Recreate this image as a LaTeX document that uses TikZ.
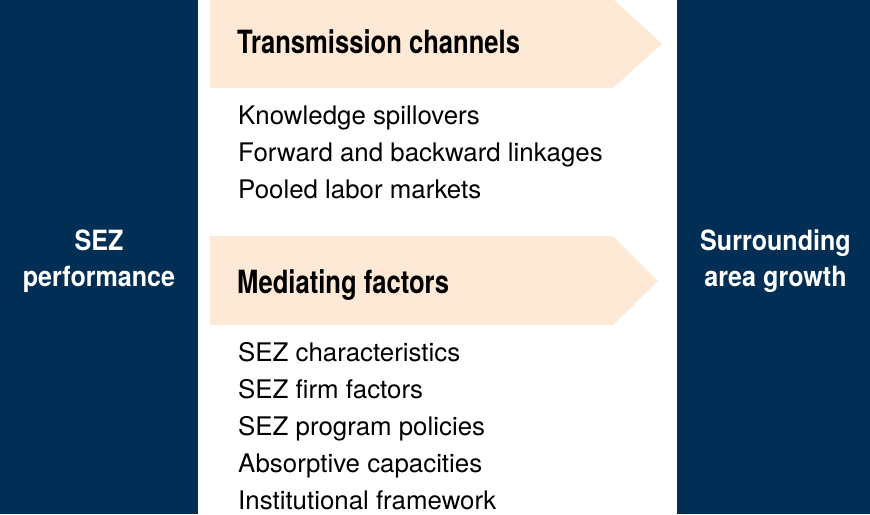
\documentclass[tikz,border=0pt]{standalone}
\usepackage{fontspec}
\setmainfont{TeX Gyre Heros}
\newfontfamily\headfont[FakeStretch=0.8]{TeX Gyre Heros}
\newfontfamily\sidefont[FakeStretch=0.9]{TeX Gyre Heros}
\newfontfamily\itemfont[FakeStretch=1.01]{TeX Gyre Heros}

\definecolor{navy}{RGB}{0,46,84}
\definecolor{peach}{RGB}{254,233,214}

\begin{document}
\begin{tikzpicture}[x=1pt,y=-1pt,
    side box/.style={fill=navy,minimum height=514pt,inner sep=0pt},
    side text/.style={text=white,inner sep=0pt,align=center,yshift=-4pt,
      font=\sidefont\bfseries\fontsize{27.9}{36}\selectfont},
    head/.style={anchor=base west,inner sep=0pt,font=\headfont\bfseries\fontsize{32}{36}\selectfont},
    item/.style={anchor=base west,inner sep=0pt,font=\itemfont\fontsize{25.6}{37}\selectfont}]
  \useasboundingbox (0,0) rectangle (870,514);

  % the two end boxes
  \node[side box, minimum width=198pt] (sez) at (99,257) {};
  \node[side box, minimum width=193pt] (growth) at (773.5,257) {};
  \node[side text] (sezlbl) at (sez.center) {SEZ\\performance};
  \node[side text, xshift=2pt] (growthlbl) at (growth.center) {Surrounding\\area growth};

  % chevrons
  \fill[peach] (210,-1) -- (613,-1) -- (662,44) -- (613,88) -- (210,88) -- cycle;
  \fill[peach] (210,236) -- (613,236) -- (658,281) -- (613,325) -- (210,325) -- cycle;

  \node[head] (channels) at (237,53) {Transmission channels};
  \foreach \txt [count=\i] in {Knowledge spillovers, Forward and backward linkages, Pooled labor markets}
    \node[item] (chan\i) at (238,87+37*\i) {\txt};

  \node[head] (mediating) at (237,293) {Mediating factors};
  \foreach \txt [count=\i] in {SEZ characteristics, SEZ firm factors, SEZ program policies,
      Absorptive capacities, Institutional framework}
    \node[item] (fac\i) at (238,324+37*\i) {\txt};
\end{tikzpicture}
\end{document}
